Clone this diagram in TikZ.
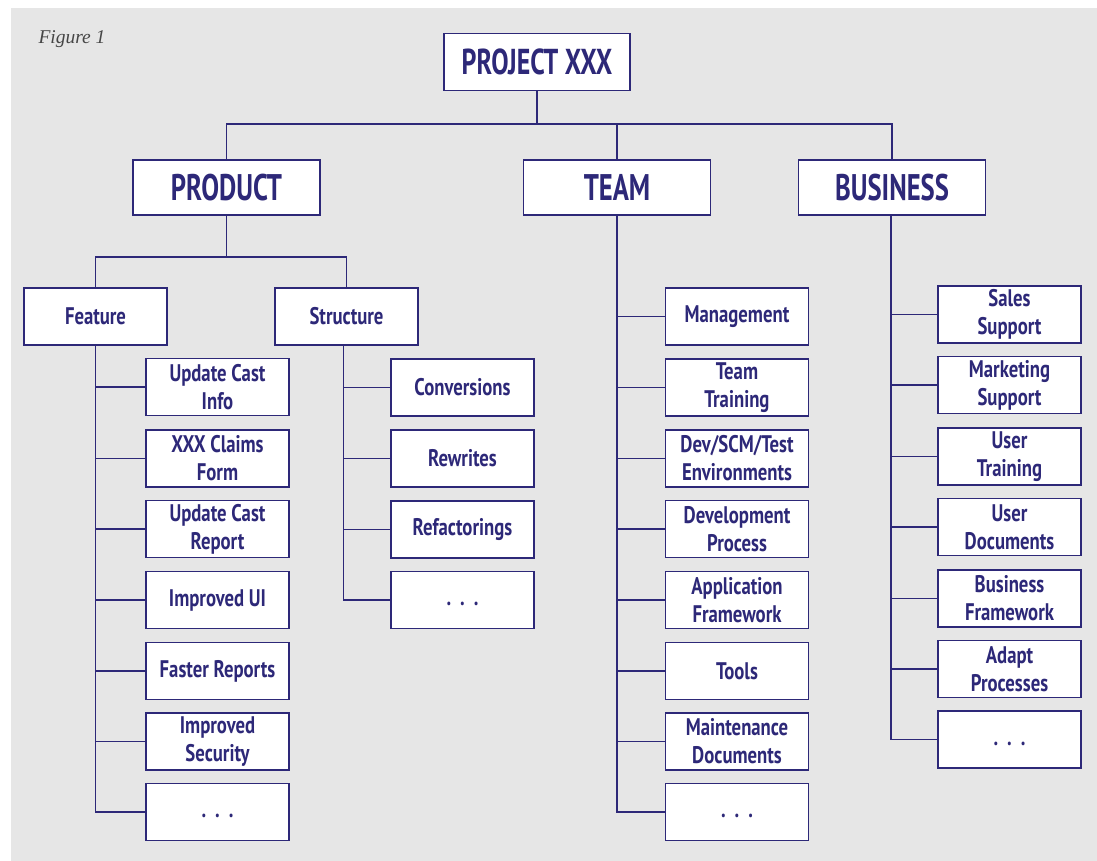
\documentclass[tikz,border=0pt]{standalone}
\usepackage{fontspec}
\setmainfont{PT Sans}[UprightFont={* Bold}, FakeStretch=0.78]
\newfontfamily\headfont{PT Sans}[UprightFont={* Bold}, FakeStretch=0.72]
\newfontfamily\figfont{Liberation Serif}
\usetikzlibrary{positioning}

\definecolor{wbsblue}{RGB}{45,40,120}
\definecolor{wbsback}{RGB}{230,230,230}
\definecolor{figgray}{RGB}{70,70,70}

\tikzset{
  wbsbox/.style={draw=wbsblue, fill=white, line width=1.6pt, text=wbsblue,
    align=center, inner sep=2pt},
  topbox/.style={wbsbox, minimum width=186pt, minimum height=57pt,
    font=\headfont\fontsize{36}{40}\selectfont},
  areabox/.style={wbsbox, minimum width=187pt, minimum height=55pt,
    font=\headfont\fontsize{37}{42}\selectfont},
  itembox/.style={wbsbox, minimum width=143pt, minimum height=57pt,
    font=\fontsize{24}{28}\selectfont},
  link/.style={draw=wbsblue, line width=1.6pt}
}
\newcommand{\moredots}{\vphantom{Ag}.\hspace{9pt}.\hspace{9pt}.}

\begin{document}
\begin{tikzpicture}[x=1pt, y=-1pt]
% background
\fill[white] (0,0) rectangle (1097,861);
\fill[wbsback] (11,8) rectangle (1097,861);
\useasboundingbox (0,0) rectangle (1097,861);

\node[anchor=base west, text=figgray, font=\figfont\itshape\fontsize{19.5}{22}\selectfont]
  (figlabel) at (35,44) {Figure 1};

% Define nodes
\node[topbox] (project) at (537,62) {PROJECT XXX};

\path
(226.5,187.5) node[areabox] (product) {PRODUCT}
(617,187.5) node[areabox] (team) {TEAM}
(892,187.5) node[areabox] (business) {BUSINESS}
;

\path
(95.5,316.5) node[itembox] (feature) {Feature}
(346.5,316.5) node[itembox] (structure) {Structure}
;

% feature items
\path
(217.5,387) node[itembox] (castinfo) {Update Cast\\Info}
(217.5,458.5) node[itembox] (claims) {XXX Claims\\Form}
(217.5,529) node[itembox] (castreport) {Update Cast\\Report}
(217.5,600) node[itembox] (betterui) {Improved UI}
(217.5,671) node[itembox] (fastreports) {Faster Reports}
(217.5,741.5) node[itembox] (security) {Improved\\Security}
(217.5,812) node[itembox] (featmore) {\moredots}
;

% structure items
\path
(462.5,387.5) node[itembox] (conversions) {Conversions}
(462.5,458.5) node[itembox] (rewrites) {Rewrites}
(462.5,529.5) node[itembox] (refactor) {Refactorings}
(462.5,600) node[itembox] (structmore) {\moredots}
;

% team items
\path
(737,316.5) node[itembox] (mgmt) {Management}
(737,387.5) node[itembox] (training) {Team\\Training}
(737,458.5) node[itembox] (envs) {Dev/SCM/Test\\Environments}
(737,529) node[itembox] (devproc) {Development\\Process}
(737,600) node[itembox] (appframe) {Application\\Framework}
(737,671) node[itembox] (tools) {Tools}
(737,741.5) node[itembox] (maintdocs) {Maintenance\\Documents}
(737,812) node[itembox] (teammore) {\moredots}
;

% business items
\path
(1009.5,314.5) node[itembox] (sales) {Sales\\Support}
(1009.5,385) node[itembox] (marketing) {Marketing\\Support}
(1009.5,456.5) node[itembox] (usertrain) {User\\Training}
(1009.5,527) node[itembox] (userdocs) {User\\Documents}
(1009.5,598.5) node[itembox] (busframe) {Business\\Framework}
(1009.5,669) node[itembox] (adapt) {Adapt\\Processes}
(1009.5,739.5) node[itembox] (busmore) {\moredots}
;

% connectors
\draw[link] (project.south) -- ++(0,33) -| (product.north);
\draw[link] (project.south) -- ++(0,33) -| (team.north);
\draw[link] (project.south) -- ++(0,33) -| (business.north);

\draw[link] (product.south) -- ++(0,41) -| (feature.north);
\draw[link] (product.south) -- ++(0,41) -| (structure.north);

\foreach \item in {castinfo, claims, castreport, betterui, fastreports, security, featmore}
  \draw[link] (feature.south) |- (\item.west);
\foreach \item in {conversions, rewrites, refactor, structmore}
  \draw[link] ([xshift=-3pt]structure.south) |- (\item.west);
\foreach \item in {mgmt, training, envs, devproc, appframe, tools, maintdocs, teammore}
  \draw[link] (team.south) |- (\item.west);
\foreach \item in {sales, marketing, usertrain, userdocs, busframe, adapt, busmore}
  \draw[link] ([xshift=-1pt]business.south) |- (\item.west);

\end{tikzpicture}
\end{document}
